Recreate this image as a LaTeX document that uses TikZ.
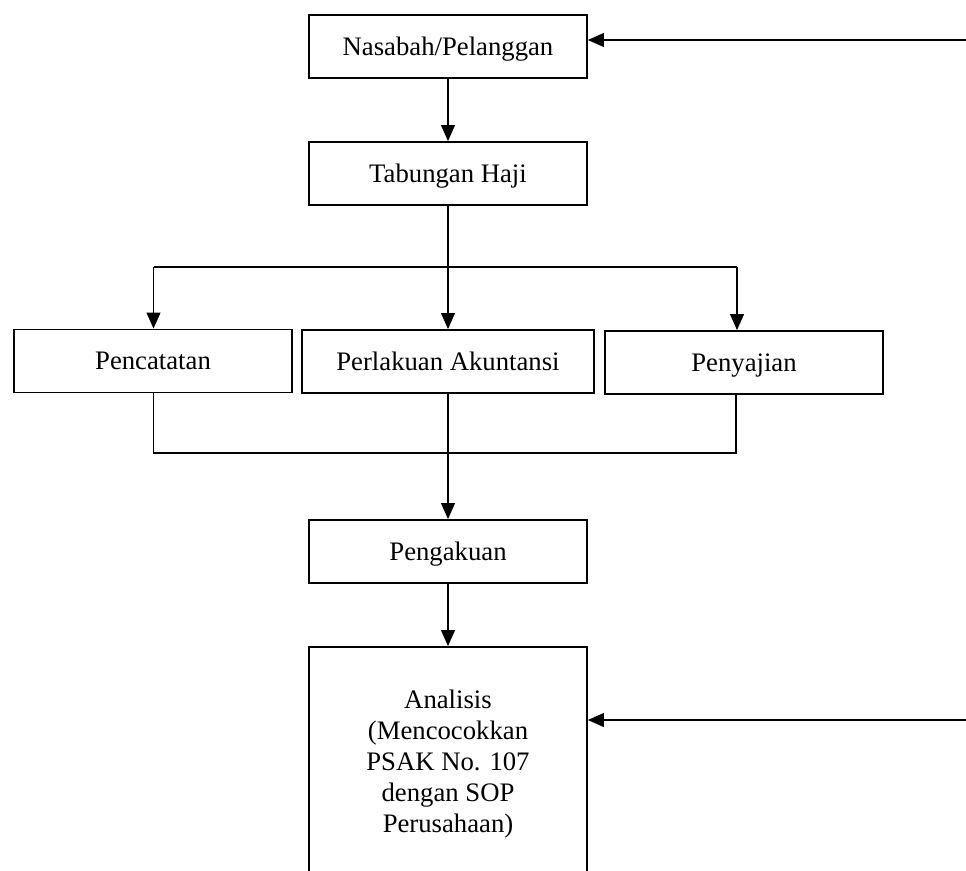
\documentclass[tikz,border=0pt]{standalone}
\usepackage{fontspec}
\setmainfont{Liberation Serif}
\usepackage{tikz}
\usetikzlibrary{arrows.meta}

\tikzset{
  box/.style={draw, line width=1.1pt, minimum width=5.56cm, minimum height=1.26cm,
    inner sep=0pt, align=center, font={\fontsize{15.2}{17.6}\selectfont}},
  onerow/.style={box, text height=10pt, text depth=0pt},
  link/.style={line width=0.6pt},
  arr/.style={link, -{Triangle[length=0.32cm,width=0.28cm]}}
}

\begin{document}
\begin{tikzpicture}[x=0.02cm, y=-0.02cm]
        \useasboundingbox (0,0) rectangle (966,870);
        \clip (0,0) rectangle (966,870);

        \node[onerow] (nasabah) at (448, 46.5) {Nasabah/Pelanggan};
        \node[onerow] (tabungan) at (448, 173.5) {Tabungan Haji};
        \node[onerow] (pencatatan) at (153, 361) {Pencatatan};
        \node[onerow, minimum width=5.84cm] (perlakuan) at (448, 361.5) {Perlakuan Akuntansi};
        \node[onerow] (penyajian) at (744, 362.5) {Penyajian};
        \node[onerow] (pengakuan) at (448, 551.5) {Pengakuan};
        \node[box, minimum height=4.68cm] (analisis) at (448, 764)
            {Analisis\\(Mencocokkan\\PSAK No. 107\\dengan SOP\\Perusahaan)};

        \coordinate (topin) at (966, 40);
        \coordinate (botin) at (966, 720);
        \coordinate (splitl) at (153.5, 267);
        \coordinate (splitr) at (737, 267);
        \coordinate (joinl) at (153.5, 453);
        \coordinate (joinr) at (736, 453);

        \draw[arr] (topin) -- (topin -| nasabah.east);
        \draw[arr] (nasabah) -- (tabungan);
        \draw[arr] (tabungan) -- (perlakuan);
        \draw[link] (splitl) -- (splitr);
        \draw[arr] (splitl) -- (splitl |- pencatatan.north);
        \draw[arr] (splitr) -- (splitr |- penyajian.north);
        \draw[link] (joinl |- pencatatan.south) -- (joinl) -- (joinr) -- (joinr |- penyajian.south);
        \draw[arr] (perlakuan) -- (pengakuan);
        \draw[arr] (pengakuan) -- (analisis);
        \draw[arr] (botin) -- (botin -| analisis.east);
    \end{tikzpicture}
\end{document}
